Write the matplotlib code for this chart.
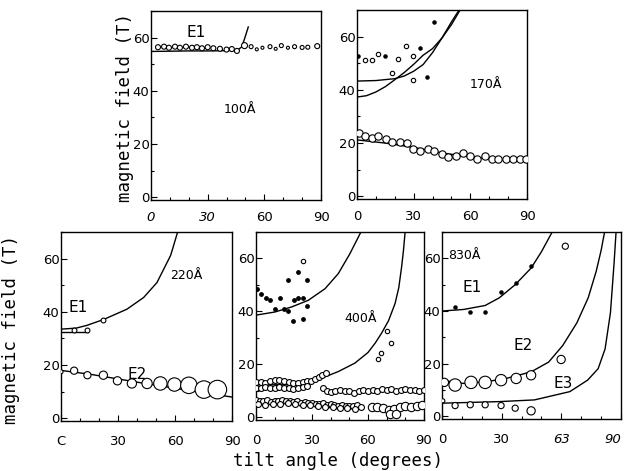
import matplotlib
matplotlib.use("Agg")
import matplotlib.pyplot as plt
from matplotlib.ticker import MultipleLocator

plt.rcParams['font.family'] = ['Liberation Sans Narrow', 'DejaVu Sans']

# ---- 100 A (top left) ----
tl_x = [3.7, 6.9, 9.5, 12.7, 15.3, 18.5, 21.7, 24.3, 27, 30, 33, 36.5, 40, 42.8, 45.5,
        49.5, 53, 56, 59, 63, 66, 69, 72.5, 76, 80, 83, 88]
tl_y = [56.4, 56.6, 56.2, 56.6, 56.2, 56.6, 56.2, 56.4, 56.0, 56.4, 56.0, 55.8, 55.5, 55.7, 55.0,
        57.0, 56.6, 55.6, 56.2, 56.6, 55.8, 57.0, 56.2, 56.6, 56.3, 56.4, 56.8]
tl_size = [5, 5, 5, 5, 5, 5, 5, 5, 5, 5, 5, 5, 5, 5, 5,
           6, 4, 3, 3, 4, 3, 4, 3, 4, 4, 4, 5]
tl_line_x = [0, 10, 20, 30, 40, 46, 48, 49.5, 51.5]
tl_line_y = [54.8, 54.9, 55.0, 55.0, 55.1, 55.4, 56.5, 59.5, 64.0]

# ---- 170 A (top right) ----
tr_open_x = [4.2, 7.8, 11.3, 18.4, 21.9, 26, 29.8, 29.8]
tr_open_y = [51.3, 51.3, 53.3, 46.3, 51.7, 56.6, 52.7, 43.8]
tr_dot_x = [0.4, 14.8, 33.3, 37.2, 40.7]
tr_dot_y = [52.6, 52.6, 55.6, 44.8, 65.5]
tr_low_x = [1, 4.2, 7.8, 11.3, 15.2, 18.7, 22.6, 26.3, 29.8, 33.3, 37.4, 40.9, 44.8, 48.3,
            52.4, 56.2, 59.8, 63.7, 67.7, 71.3, 74.8, 78.7, 82.4, 86.2, 89.4]
tr_low_y = [23.8, 22.5, 21.8, 22.8, 21.5, 20.6, 20.6, 20.0, 17.7, 16.9, 17.7, 17.0, 16.0, 14.8,
            15.0, 16.1, 15.0, 14.0, 15.2, 14.0, 14.0, 14.0, 14.0, 14.0, 14.2]
tr_ca_x = [0, 10, 20, 25, 30, 35, 40, 45, 50, 54.5]
tr_ca_y = [43.3, 43.5, 44.2, 45.2, 47.0, 49.5, 54.0, 59.5, 65.5, 70.5]
tr_cb_x = [0, 5, 10, 15, 20, 25, 30, 35, 40, 45, 50, 55]
tr_cb_y = [37.3, 37.8, 39.2, 41.2, 43.8, 46.5, 49.6, 53.0, 55.5, 59.5, 64.5, 70.5]
tr_cl_x = [0, 15, 30, 45, 60, 75, 90]
tr_cl_y = [21.2, 20.0, 18.4, 16.3, 14.8, 13.8, 13.4]

# ---- 220 A (bottom left) ----
bl_e1_x = [6.8, 13.9, 22.3]
bl_e1_y = [33.3, 33.3, 37.0]
bl_e2_x = [0, 6.9, 13.9, 22.3, 29.7, 37.3, 45.3, 52.3, 59.7, 67.3, 75.2, 82.3]
bl_e2_y = [17.5, 17.9, 16.2, 16.2, 14.1, 13.1, 13.1, 13.1, 12.7, 12.4, 10.8, 10.8]
bl_e2_size = [4, 7, 7, 8, 8, 9, 10, 13, 13, 16, 17, 18]
bl_c1_x = [0, 8, 13.5, 22.3, 34.7, 43.5, 50.5, 57.7, 61.6]
bl_c1_y = [33.5, 33.9, 34.9, 37.1, 41.0, 45.4, 51.0, 61.2, 70.5]
bl_flat_x = [0, 14]
bl_flat_y = [32.4, 32.4]
bl_c2_x = [0, 15, 30, 45, 60, 75, 90]
bl_c2_y = [18.0, 16.6, 14.8, 13.0, 11.3, 9.6, 8.0]

# ---- 400 A (bottom middle) ----
bm_dot_x = [0.4, 2.7, 5.2, 7.7, 12.7, 10.2, 15.2, 17.3, 17.3, 22.7, 27.5, 20.4, 22.7, 25.4,
            27.5, 20, 25]
bm_dot_y = [48.6, 46.4, 45.1, 44.2, 45.1, 41, 41, 40.2, 52, 54.9, 52, 44.2, 45.1, 45.1,
            42, 36.3, 37.1]
bm_open_x = [25, 65.1, 66.9, 70, 72.3]
bm_open_y = [58.9, 22.1, 24.2, 32.6, 28.2]
bm_b1_x = [0, 2.5, 5, 7.5, 10, 12.5, 15, 17.5, 20, 22.5, 25, 27.5,
           0, 2.5, 5, 7.5, 10, 12.5, 15, 17.5, 20, 22.5, 25, 27.5,
           29.5, 31.5, 33.5, 35.5, 37.5,
           36, 38, 40, 42.5, 45, 47.5, 50, 52.5, 55, 57.5, 60, 62.5, 65, 67.5, 70, 72.5,
           75, 77.5, 80, 82.5, 85, 87.5, 90]
bm_b1_y = [13.2, 13.4, 13.0, 13.6, 14.0, 14.2, 13.8, 13.4, 13.0, 12.8, 13.2, 13.8,
           11.2, 11.0, 11.4, 11.2, 11.0, 11.6, 11.2, 11.0, 10.8, 11.2, 11.6, 12.0,
           13.8, 14.5, 15.2, 16.0, 16.8,
           11.0, 10.0, 9.6, 9.8, 10.2, 10.0, 9.8, 9.2, 10.0, 10.2, 10.0, 10.4, 10.0, 10.8,
           10.2, 10.6, 10.0, 10.4, 10.8, 10.2, 10.4, 10.0, 10.2]
bm_b2_x = [0, 2, 4, 6, 8, 10, 12, 14, 16, 18, 20, 22, 24, 26, 28, 30, 32, 34, 36, 38,
           40, 42, 44, 46, 48, 50, 52, 54, 56,
           1, 5, 9, 13, 17, 21, 25, 29, 33, 37, 41, 45, 49, 53]
bm_b2_y = [6.4, 6.2, 6.0, 6.4, 5.8, 6.0, 6.2, 6.6, 6.0, 6.2, 5.8, 6.0, 5.6, 5.8, 5.4,
           5.6, 5.2, 5.0, 5.4, 4.8, 5.0, 4.8, 4.4, 4.6, 4.2, 4.4, 4.2, 4.6, 4.0,
           5.0, 4.8, 5.2, 5.0, 5.4, 5.0, 4.6, 4.8, 4.4, 4.0, 3.8, 3.6, 3.4, 3.2]
bm_b3_x = [62, 65, 68, 71, 74, 77, 80, 83, 86, 89, 72, 75]
bm_b3_y = [3.8, 3.8, 3.5, 2.6, 3.2, 4.0, 4.2, 4.0, 4.2, 4.5, 1.2, 1.2]
bm_c1_x = [0, 10.2, 19.1, 28, 37, 44.1, 50.3, 55.7, 57]
bm_c1_y = [38.6, 39.8, 41.7, 44.2, 48.6, 54.3, 61.8, 69.3, 71]
bm_c2_x = [0, 17.4, 26.4, 35.2, 44.1, 53, 60, 63.8, 67.2, 71, 74.5, 76.5, 78, 79, 80]
bm_c2_y = [12.3, 12.3, 12.9, 14.8, 17.3, 20.5, 24.5, 28, 31.7, 36.5, 43, 49, 56.8, 63, 71]

# ---- 830 A (bottom right) ----
br_e1_x = [6.6, 14.2, 21.7, 29.7, 37.1, 44.8]
br_e1_y = [41.6, 39.6, 39.6, 47.1, 50.6, 57.1]
br_e2_x = [1.2, 6.6, 14.6, 21.7, 29.7, 37.3, 44.8, 59.9]
br_e2_y = [12.9, 11.9, 12.9, 12.9, 13.75, 14.4, 15.6, 21.6]
br_e2_size = [8, 12, 12, 12, 11, 10, 9, 8]
br_e3_x = [0.4, 6.6, 14.2, 21.7, 29.7, 36.8, 44.8, 62]
br_e3_y = [5.9, 4.1, 4.4, 4.4, 4.1, 3.1, 2.1, 64.6]
br_e3_size = [4, 6, 6, 6, 6, 6, 8, 6]
br_c1_x = [0, 11, 21.7, 28.8, 36.8, 44.8, 50, 55.4, 56.5]
br_c1_y = [40, 40.6, 42.1, 45, 50, 56.3, 62.5, 70, 71]
br_c2_x = [0, 11, 21.7, 32.3, 44.8, 53.6, 60.7, 67.8, 73.5, 77.5, 80, 82]
br_c2_y = [13.7, 12.5, 13.1, 14.4, 16.9, 20.6, 26.9, 35.5, 45, 55, 63, 71]
br_c3_x = [0, 28.8, 46.5, 64.3, 73.2, 78.5, 82, 84.7, 86.5, 87.6]
br_c3_y = [5.0, 5.6, 6.25, 9.4, 13.75, 18.1, 25.6, 39.4, 58, 71]

fig = plt.figure(figsize=(6.25, 4.71), dpi=100)

W, H = 625, 471
def panel(x0, y0, x1, y1, xpad):
    ax = fig.add_axes([x0 / W, 1 - y1 / H, (x1 - x0) / W, (y1 - y0) / H])
    ax.set_xlim(0, 90)
    ax.set_ylim(-1, 70)
    ax.set_xticks([0, 30, 60, 90])
    ax.set_yticks([0, 20, 40, 60])
    ax.xaxis.set_minor_locator(MultipleLocator(10))
    ax.yaxis.set_minor_locator(MultipleLocator(10))
    ax.tick_params(which='both', direction='in', labelsize=9.5, width=0.8)
    ax.tick_params(which='major', length=4)
    ax.tick_params(which='minor', length=2)
    ax.tick_params(axis='x', pad=xpad)
    ax.tick_params(axis='y', pad=1)
    for s in ax.spines.values():
        s.set_linewidth(1.0)
    return ax

lw = 1.0
oc = dict(facecolor='white', edgecolor='black', linewidths=0.8, zorder=3)

ax1 = panel(151, 11, 321, 200, 8)
ax1.plot(tl_line_x, tl_line_y, color='black', lw=lw)
ax1.scatter(tl_x, tl_y, s=[d * d * 0.52 for d in tl_size], **oc)
ax1.text(24, 62, 'E1', fontsize=11, ha='center', va='center')
ax1.text(47, 33, '100Å', fontsize=9, ha='center', va='center')
for lab, it in zip(ax1.get_xticklabels(), [True, True, False, False]):
    lab.set_style('italic' if it else 'normal')

ax2 = panel(357, 10, 527, 199, 8)
ax2.plot(tr_ca_x, tr_ca_y, color='black', lw=lw)
ax2.plot(tr_cb_x, tr_cb_y, color='black', lw=lw)
ax2.plot(tr_cl_x, tr_cl_y, color='black', lw=lw)
ax2.scatter(tr_open_x, tr_open_y, s=10, **oc)
ax2.scatter(tr_dot_x, tr_dot_y, s=5, color='black', zorder=3)
ax2.scatter(tr_low_x, tr_low_y, s=28, **oc)
ax2.text(68, 42, '170Å', fontsize=9, ha='center', va='center')

ax3 = panel(61, 232, 232, 421, 10)
ax3.plot(bl_c1_x, bl_c1_y, color='black', lw=lw)
ax3.plot(bl_flat_x, bl_flat_y, color='black', lw=lw)
ax3.plot(bl_c2_x, bl_c2_y, color='black', lw=lw)
ax3.scatter(bl_e1_x, bl_e1_y, s=12, **oc)
ax3.scatter(bl_e2_x, bl_e2_y, s=[d * d * 0.55 for d in bl_e2_size], **oc)
ax3.text(9, 41.5, 'E1', fontsize=11, ha='center', va='center')
ax3.text(40, 16.5, 'E2', fontsize=11, ha='center', va='center')
ax3.text(66, 53.5, '220Å', fontsize=9, ha='center', va='center')
ax3.set_xticklabels(['C', '30', '60', '90'])

ax4 = panel(256, 232, 424, 420, 10)
ax4.plot(bm_c1_x, bm_c1_y, color='black', lw=lw)
ax4.plot(bm_c2_x, bm_c2_y, color='black', lw=lw)
ax4.scatter(bm_dot_x, bm_dot_y, s=6, color='black', zorder=3)
ax4.scatter(bm_open_x, bm_open_y, s=10, **oc)
ax4.scatter(bm_b1_x, bm_b1_y, s=18, **oc)
ax4.scatter(bm_b2_x, bm_b2_y, s=18, **oc)
ax4.scatter(bm_b3_x, bm_b3_y, s=36, **oc)
ax4.text(56, 37.5, '400Å', fontsize=9, ha='center', va='center')

ax5 = panel(442, 232, 621, 419, 10)
ax5.plot(br_c1_x, br_c1_y, color='black', lw=lw)
ax5.plot(br_c2_x, br_c2_y, color='black', lw=lw)
ax5.plot(br_c3_x, br_c3_y, color='black', lw=lw)
ax5.scatter(br_e1_x, br_e1_y, s=5, color='black', zorder=3)
ax5.scatter(br_e2_x, br_e2_y, s=[d * d * 0.55 for d in br_e2_size], **oc)
ax5.scatter(br_e3_x, br_e3_y, s=[d * d * 0.55 for d in br_e3_size], **oc)
ax5.text(15, 49, 'E1', fontsize=11, ha='center', va='center')
ax5.text(41, 27, 'E2', fontsize=11, ha='center', va='center')
ax5.text(61, 12.5, 'E3', fontsize=11, ha='center', va='center')
ax5.text(3, 61, '830Å', fontsize=9, ha='left', va='center')
ax5.set_xticklabels(['0', '30', '63', '90'])
xl = ax5.get_xticklabels()
for lab, it in zip(xl, [False, False, True, True]):
    lab.set_style('italic' if it else 'normal')
xl[-1].set_horizontalalignment('right')

mono = ['DejaVu Sans Mono']
fig.text(0.2, 0.772, 'magnetic field (T)', rotation=90, family=mono, fontsize=12.5,
         ha='center', va='center')
fig.text(0.018, 0.3, 'magnetic field (T)', rotation=90, family=mono, fontsize=12.5,
         ha='center', va='center')
fig.text(0.541, 0.022, 'tilt angle (degrees)', family=mono, fontsize=12.5,
         ha='center', va='center')

fig.savefig('out.png', dpi=100)
